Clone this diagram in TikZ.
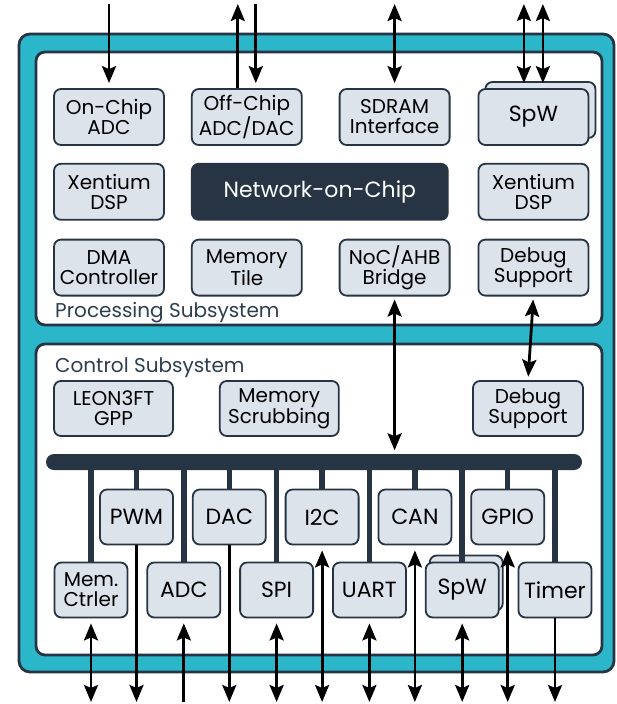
\documentclass[tikz,border=0pt]{standalone}
\usepackage{fontspec}
\setmainfont{Poppins}
\usepackage{tikz}
\usetikzlibrary{arrows.meta,positioning,shadows}

\definecolor{chipteal}{RGB}{43,183,201}
\definecolor{navy}{RGB}{38,52,68}
\definecolor{blockfill}{RGB}{221,227,234}
\definecolor{labelgrey}{RGB}{47,62,78}

\begin{document}
\begin{tikzpicture}[
    x=1pt, y=1pt,
    font=\fontsize{20}{20}\selectfont,
    >={Stealth[length=17pt,width=14pt,inset=3pt]},
    frame/.style={draw=navy, line width=2.8pt, rounded corners=9pt},
    block/.style={draw=navy, fill=blockfill, line width=1.8pt, rounded corners=7pt, minimum width=110pt, minimum height=56pt, inner sep=0pt, align=center},
    single/.style={font=\fontsize{22}{22}\selectfont},
    periph/.style={block, single, minimum width=73pt, minimum height=55pt},
    stacked/.style={copy shadow={shadow xshift=#1, shadow yshift=7pt, draw=navy, fill=blockfill, line width=1.8pt}},
    stacked/.default=7pt,
    nocbox/.style={block, single, fill=navy, text=white, minimum width=256pt},
    busbar/.style={fill=navy, rounded corners=8pt, minimum width=536pt, minimum height=16pt, inner sep=0pt},
    stub/.style={draw=navy, line width=5.5pt},
    arr/.style={line width=2.8pt},
    inarr/.style={arr, ->, shorten >=5pt},
    outarr/.style={arr, ->},
    biarr/.style={arr, <->, shorten <=5pt},
    linkarr/.style={arr, <->, shorten <=3pt, shorten >=3.5pt},
    sublabel/.style={anchor=base west, inner sep=0pt, text=labelgrey}
]
\useasboundingbox (0,0) rectangle (616,-704);

% chip and subsystem frames
\draw[frame, fill=chipteal, rounded corners=11pt] (19,-34) rectangle (614,-672);
\draw[frame, fill=white] (36,-52) rectangle (602,-325);
\draw[frame, fill=white] (36,-344) rectangle (602,-655);
\node[sublabel] (proclabel) at (55,-317) {Processing Subsystem};
\node[sublabel] (ctrllabel) at (55,-372) {Control Subsystem};

% processing subsystem
\node[block] (onadc) at (109,-117) {On-Chip\\ADC};
\node[block, right=26pt of onadc] (offadc) {Off-Chip\\ADC/DAC};
\node[block, right=36pt of offadc] (sdram) {SDRAM\\Interface};
\node[block, single, stacked, right=27pt of sdram] (spwp) {SpW};
\node[block, below=17pt of onadc] (xenl) {Xentium\\DSP};
\node[nocbox, right=26pt of xenl] (noc) {Network-on-Chip};
\node[block, below=17pt of spwp] (xenr) {Xentium\\DSP};
\node[block, below=18pt of xenl] (dma) {DMA\\Controller};
\node[block, right=26pt of dma] (memtile) {Memory\\Tile};
\node[block, right=36pt of memtile] (bridge) {NoC/AHB\\Bridge};
\node[block, right=27pt of bridge] (dbgp) {Debug\\Support};

% control subsystem
\node[block, minimum width=119pt, minimum height=55pt] (leon) at (113.5,-408.5) {LEON3FT\\GPP};
\node[block, minimum width=119pt, minimum height=55pt, right=45pt of leon] (scrub) {Memory\\Scrubbing};
\node[block, minimum height=55pt] (dbgc) at (528,-408.5) {Debug\\Support};
\node[busbar] (bus) at (314,-462) {};

\node[periph] (pwm) at (136.5,-517) {PWM};
\node[periph, right=18pt of pwm] (dac) {DAC};
\node[periph, right=18pt of dac] (i2c) {I2C};
\node[periph, right=18pt of i2c] (can) {CAN};
\node[periph, right=18pt of can] (gpio) {GPIO};

\node[periph, font=\fontsize{20}{20}\selectfont] (memc) at (91,-590) {Mem.\\Ctrler};
\node[periph, right=18pt of memc] (adc) {ADC};
\node[periph, right=18pt of adc] (spi) {SPI};
\node[periph, right=18pt of spi] (uart) {UART};
\node[periph, stacked=4pt, right=18pt of uart] (spwc) {SpW};
\node[periph, right=18pt of spwc] (timer) {Timer};

% bus stubs
\draw[stub] (memc.north |- bus) -- (memc.north);
\draw[stub] (pwm.north |- bus) -- (pwm.north);
\draw[stub] (adc.north |- bus) -- (adc.north);
\draw[stub] (dac.north |- bus) -- (dac.north);
\draw[stub] (spi.north |- bus) -- (spi.north);
\draw[stub] (i2c.north |- bus) -- (i2c.north);
\draw[stub] (uart.north |- bus) -- (uart.north);
\draw[stub] (can.north |- bus) -- (can.north);
\draw[stub] (spwc.north |- bus) -- (spwc.north);
\draw[stub] (gpio.north |- bus) -- (gpio.north);
\draw[stub] (timer.north |- bus) -- (timer.north);

% external I/O, top
\coordinate (top) at (0,-4);
\coordinate (bot) at (0,-702);
\coordinate (offup) at ([xshift=-9pt]offadc.north);
\coordinate (offdn) at ([xshift=9pt]offadc.north);
\coordinate (spwa) at ([xshift=-9.5pt]spwp.north);
\coordinate (spwb) at ([xshift=9.5pt]spwp.north);
\draw[inarr] (onadc.north |- top) -- (onadc.north);
\draw[outarr] (offup) -- (offup |- top);
\draw[inarr] (offdn |- top) -- (offdn);
\draw[biarr] (sdram.north) -- (sdram.north |- top);
\draw[biarr] (spwa) -- (spwa |- top);
\draw[biarr] (spwb) -- (spwb |- top);

% links between subsystems
\draw[linkarr] (bridge.south) -- (bridge.south |- bus.north);
\draw[linkarr] (dbgp.south) -- (dbgc.north);

% external I/O, bottom
\draw[biarr] (memc.south) -- (memc.south |- bot);
\draw[outarr] (pwm.south) -- (pwm.south |- bot);
\draw[inarr] (adc.south |- bot) -- (adc.south);
\draw[outarr] (dac.south) -- (dac.south |- bot);
\draw[biarr] (spi.south) -- (spi.south |- bot);
\draw[biarr] (i2c.south) -- (i2c.south |- bot);
\draw[biarr] (uart.south) -- (uart.south |- bot);
\draw[biarr] (can.south) -- (can.south |- bot);
\draw[biarr] (spwc.south) -- (spwc.south |- bot);
\draw[biarr] (gpio.south) -- (gpio.south |- bot);
\draw[outarr] (timer.south) -- (timer.south |- bot);
\end{tikzpicture}
\end{document}
